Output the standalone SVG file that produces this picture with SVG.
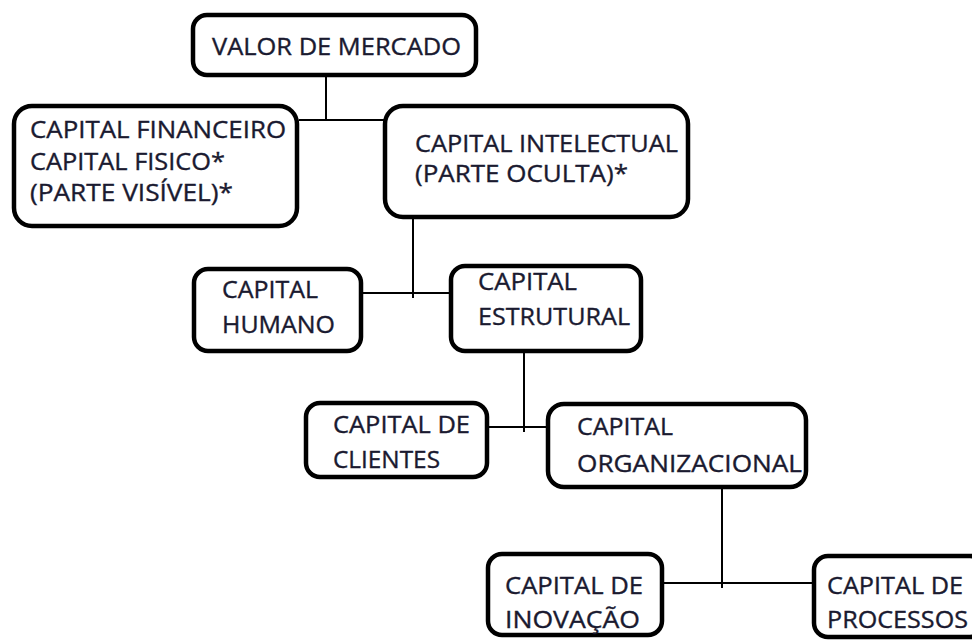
<svg xmlns="http://www.w3.org/2000/svg" width="972" height="641" viewBox="0 0 972 641">
<style>
.box{fill:#fff;stroke:#000;stroke-width:4.5}
.t{font-family:"Open Sans","Liberation Sans",sans-serif;font-size:23.5px;fill:#1a1a30;stroke:#1a1a30;stroke-width:0.35}
.c{stroke:#000;stroke-width:2;fill:none}
</style>
<rect width="972" height="641" fill="#fff"/>
<g id="connectors">
<line class="c" x1="326" y1="77" x2="326" y2="120"/>
<line class="c" x1="299" y1="120" x2="384" y2="120"/>
<line class="c" x1="413" y1="219" x2="413" y2="298"/>
<line class="c" x1="363" y1="293" x2="450" y2="293"/>
<line class="c" x1="524" y1="353" x2="524" y2="432"/>
<line class="c" x1="489" y1="427" x2="547" y2="427"/>
<line class="c" x1="722" y1="489" x2="722" y2="588"/>
<line class="c" x1="664" y1="583" x2="813" y2="583"/>
</g>
<g id="valor">
<rect class="box" x="193" y="15" width="283" height="60" rx="14"/>
<text class="t" x="212" y="55" textLength="249" lengthAdjust="spacingAndGlyphs">VALOR DE MERCADO</text>
</g>
<g id="visivel">
<rect class="box" x="14" y="106" width="283" height="120" rx="18"/>
<text class="t" x="30" y="138" textLength="256" lengthAdjust="spacingAndGlyphs">CAPITAL FINANCEIRO</text>
<text class="t" x="30" y="170" textLength="195" lengthAdjust="spacingAndGlyphs">CAPITAL FISICO*</text>
<text class="t" x="30" y="201" textLength="203" lengthAdjust="spacingAndGlyphs">(PARTE VISÍVEL)*</text>
</g>
<g id="intelectual">
<rect class="box" x="385" y="106" width="303" height="111" rx="18"/>
<text class="t" x="415" y="152" textLength="263" lengthAdjust="spacingAndGlyphs">CAPITAL INTELECTUAL</text>
<text class="t" x="415" y="182" textLength="213" lengthAdjust="spacingAndGlyphs">(PARTE OCULTA)*</text>
</g>
<g id="humano">
<rect class="box" x="194" y="269" width="167" height="82" rx="14"/>
<text class="t" x="222" y="298" textLength="96" lengthAdjust="spacingAndGlyphs">CAPITAL</text>
<text class="t" x="222" y="333" textLength="113" lengthAdjust="spacingAndGlyphs">HUMANO</text>
</g>
<g id="estrutural">
<rect class="box" x="451" y="266" width="190" height="85" rx="14"/>
<text class="t" x="478" y="290" textLength="99" lengthAdjust="spacingAndGlyphs">CAPITAL</text>
<text class="t" x="478" y="325" textLength="152" lengthAdjust="spacingAndGlyphs">ESTRUTURAL</text>
</g>
<g id="clientes">
<rect class="box" x="306" y="403" width="181" height="74" rx="14"/>
<text class="t" x="333" y="433" textLength="137" lengthAdjust="spacingAndGlyphs">CAPITAL DE</text>
<text class="t" x="333" y="468" textLength="107" lengthAdjust="spacingAndGlyphs">CLIENTES</text>
</g>
<g id="organizacional">
<rect class="box" x="548" y="404" width="258" height="83" rx="16"/>
<text class="t" x="577" y="435" textLength="96" lengthAdjust="spacingAndGlyphs">CAPITAL</text>
<text class="t" x="577" y="472" textLength="225" lengthAdjust="spacingAndGlyphs">ORGANIZACIONAL</text>
</g>
<g id="inovacao">
<rect class="box" x="488" y="554" width="174" height="81" rx="14"/>
<text class="t" x="505" y="594" textLength="138" lengthAdjust="spacingAndGlyphs">CAPITAL DE</text>
<text class="t" x="505" y="628" textLength="135" lengthAdjust="spacingAndGlyphs">INOVAÇÃO</text>
</g>
<g id="processos">
<rect class="box" x="814" y="556" width="170" height="81" rx="14"/>
<text class="t" x="827" y="594" textLength="136" lengthAdjust="spacingAndGlyphs">CAPITAL DE</text>
<text class="t" x="827" y="628" textLength="141" lengthAdjust="spacingAndGlyphs">PROCESSOS</text>
</g>
</svg>
